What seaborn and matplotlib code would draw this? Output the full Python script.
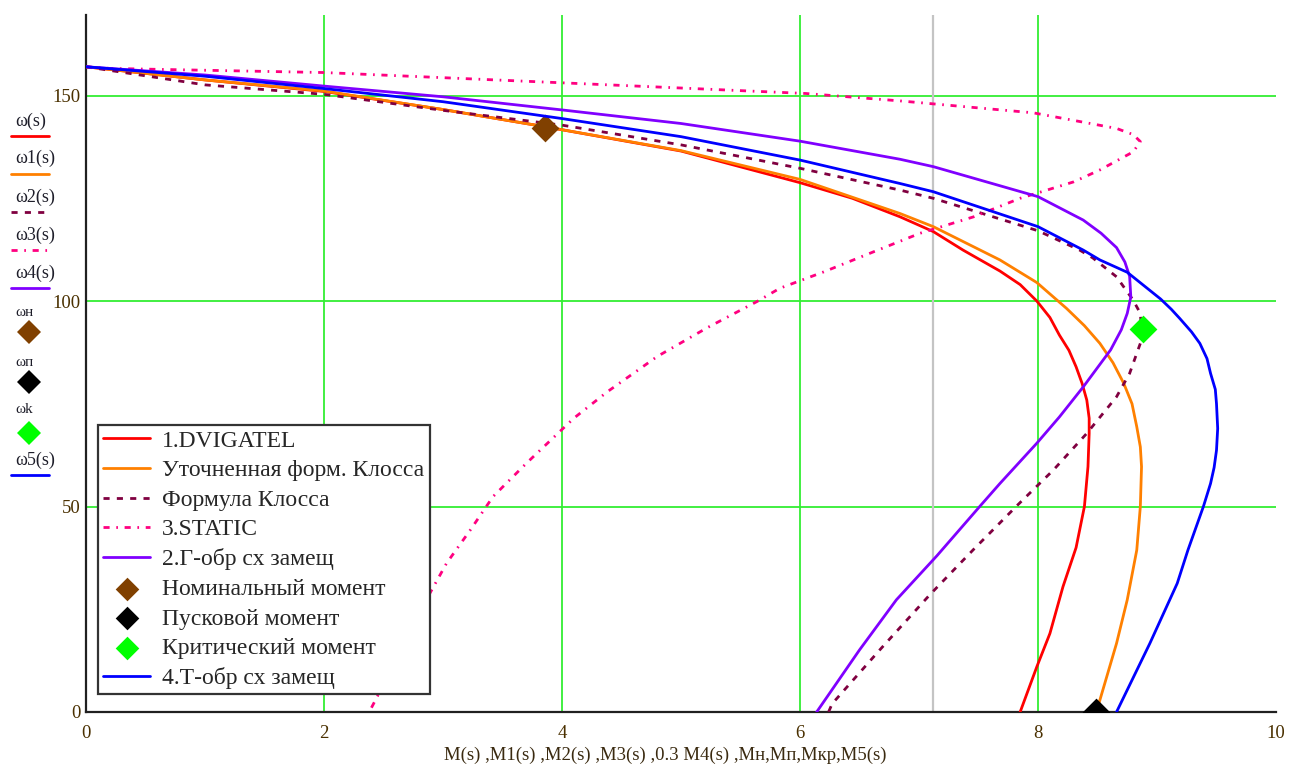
import numpy as np
import pandas as pd
import matplotlib
matplotlib.use("Agg")
import matplotlib.pyplot as plt
from matplotlib.lines import Line2D
import seaborn as sns

# ---------------- data ----------------
# 1.DVIGATEL  : omega(s) vs M(s)
M_red = [0, 1, 2, 3, 3.86, 5, 6, 6.44, 6.84, 7.12, 7.37, 7.68, 7.85, 7.99, 8.10, 8.18, 8.26, 8.32, 8.37, 8.41, 8.43, 8.43, 8.42, 8.39, 8.32, 8.21, 8.10, 7.99, 7.85]
W_red = [157, 153.8, 151.0, 146.6, 142.4, 136.5, 128.8, 125.0, 120.5, 116.9, 112.4, 107.3, 104.0, 100.0, 96.0, 91.7, 88.0, 84.0, 80.0, 75.9, 71.5, 67.8, 59.7, 50.0, 40.0, 30.5, 19.1, 11.0, 0]

# Уточненная форм. Клосса : omega1(s) vs M1(s)
M_orange = [0, 1, 2, 3, 3.86, 5, 6, 6.84, 7.12, 7.68, 7.99, 8.24, 8.39, 8.52, 8.63, 8.72, 8.79, 8.83, 8.86, 8.87, 8.86, 8.83, 8.75, 8.66, 8.52, 8.49]
W_orange = [157, 153.8, 151.1, 146.6, 142.4, 136.6, 129.6, 121.3, 118.1, 110.0, 104.5, 98.2, 94.0, 89.7, 85.0, 80.0, 75.0, 69.4, 64.5, 59.7, 50.0, 39.4, 27.3, 16.7, 2.9, 0]

# Формула Клосса : omega2(s) vs M2(s)
M_kloss = [0, 1, 2, 3, 4, 5, 6, 6.84, 7.12, 8.0, 8.35, 8.46, 8.66, 8.80, 8.86, 8.87, 8.86, 8.77, 8.66, 8.41, 8.13, 7.83, 7.46, 7.09, 6.67, 6.27, 6.24]
W_kloss = [157, 152.6, 150.3, 146.4, 142.8, 138.0, 132.3, 127.0, 125.0, 117.1, 112.4, 110.5, 105.9, 100.2, 97.0, 93.0, 89.7, 82.4, 76.7, 67.8, 58.9, 50.4, 39.6, 28.5, 15.1, 2.0, 0]

# 3.STATIC : omega3(s) vs M3(s)
M_static = [0, 0.2, 2, 4, 6.05, 6.84, 7.96, 8.66, 8.80, 8.86, 8.80, 8.52, 8.30, 7.85, 7.46, 7.01, 6.62, 6.20, 5.83, 5.64, 5.22, 4.80, 4.38, 4.10, 3.70, 3.42, 3.23, 3.03, 2.89, 2.74, 2.56, 2.38]
W_static = [157, 156.6, 155.6, 153.1, 150.5, 148.7, 145.8, 142.0, 140.5, 138.8, 136.3, 131.9, 129.0, 125.0, 120.5, 116.5, 112.0, 107.1, 103.1, 99.9, 93.5, 86.5, 77.9, 71.5, 60.5, 52.4, 44.3, 36.2, 28.9, 20.0, 10.0, 0]

# 2.Г-обр сх замещ : omega4(s) vs 0.3*M4(s)
M_gamma = [0, 1, 2, 3, 4, 5, 6, 6.84, 7.12, 8.0, 8.38, 8.53, 8.66, 8.73, 8.77, 8.78, 8.75, 8.70, 8.61, 8.38, 8.18, 7.99, 7.68, 7.51, 7.15, 6.81, 6.50, 6.14]
W_gamma = [157, 155.0, 152.3, 149.7, 146.5, 143.2, 138.9, 134.5, 132.7, 125.4, 119.7, 116.5, 113.0, 109.5, 106.0, 101.0, 97.0, 93.0, 88.1, 79.1, 71.8, 65.4, 55.6, 50.0, 38.0, 27.3, 15.1, 0]

# 4.Т-обр сх замещ : omega5(s) vs M5(s)
M_t = [0, 1, 2, 3, 4, 5, 6, 6.84, 7.12, 8.0, 8.38, 8.52, 8.75, 9.03, 9.12, 9.19, 9.29, 9.36, 9.42, 9.45, 9.49, 9.50, 9.51, 9.50, 9.48, 9.45, 9.39, 9.26, 9.17, 8.94, 8.66]
W_t = [157, 154.7, 151.7, 148.5, 144.4, 140.0, 134.3, 128.6, 126.6, 118.1, 112.4, 110.0, 107.0, 100.5, 98.0, 95.8, 92.5, 89.7, 86.0, 82.4, 78.5, 75.0, 69.0, 63.7, 59.5, 55.6, 50.0, 39.4, 31.3, 16.7, 0]

# points
M_nom, W_nom = [3.86], [142.2]     # Номинальный момент
M_start, W_start = [8.49], [0.0]   # Пусковой момент
M_crit, W_crit = [8.88], [93.1]    # Критический момент

X_MARKER = 7.12                    # grey vertical marker line
x_ticks = [0, 2, 4, 6, 8, 10]
y_ticks = [0, 50, 100, 150]
X_MAX, Y_MAX = 10, 169.6

legend_labels = ["1.DVIGATEL", "Уточненная форм. Клосса", "Формула Клосса", "3.STATIC",
                 "2.Г-обр сх замещ", "Номинальный момент", "Пусковой момент",
                 "Критический момент", "4.Т-обр сх замещ"]
side_labels = ["ω(s)", "ω1(s)", "ω2(s)", "ω3(s)", "ω4(s)", "ωн", "ωп", "ωk", "ω5(s)"]
x_label = "M(s) ,M1(s) ,M2(s) ,M3(s) ,0.3 M4(s) ,Mн,Mп,Mкр,M5(s)"

# ---------------- styling ----------------
sns.set_theme(style="white")
plt.rcParams["font.family"] = ["Liberation Serif", "DejaVu Serif"]

C_RED, C_OR, C_MAR, C_PINK = "#ff0000", "#ff8000", "#800040", "#ff0080"
C_PUR, C_BLUE = "#8000ff", "#0000ff"
C_BROWN, C_BLACK, C_GREEN = "#804000", "#000000", "#00ff00"
GRID_C = "#33ee33"
LW = 2.0
DASH_MAR = (0, (2.2, 2.6))
DASH_PINK = (0, (2.2, 2.4, 0.6, 2.4))

fig = plt.figure(figsize=(12.9, 7.7), dpi=100)
ax = fig.add_axes([86 / 1290, 1 - 712 / 770, 1190 / 1290, 697 / 770])

def curve(M, W, color, ls, label, z):
    df = pd.DataFrame({"M": M, "W": W})
    sns.lineplot(data=df, x="M", y="W", sort=False, estimator=None, color=color,
                 linestyle=ls, linewidth=LW, label=label, ax=ax, zorder=z)

curve(M_red, W_red, C_RED, "-", legend_labels[0], 3)
curve(M_orange, W_orange, C_OR, "-", legend_labels[1], 3.1)
curve(M_kloss, W_kloss, C_MAR, DASH_MAR, legend_labels[2], 3.2)
curve(M_static, W_static, C_PINK, DASH_PINK, legend_labels[3], 3.3)
curve(M_gamma, W_gamma, C_PUR, "-", legend_labels[4], 3.4)

def point(M, W, color, label, z):
    sns.scatterplot(x=M, y=W, marker="D", s=200, color=color, edgecolor=color,
                    linewidth=0, label=label, ax=ax, zorder=z)

point(M_nom, W_nom, C_BROWN, legend_labels[5], 3.5)
point(M_start, W_start, C_BLACK, legend_labels[6], 3.6)
point(M_crit, W_crit, C_GREEN, legend_labels[7], 3.7)
curve(M_t, W_t, C_BLUE, "-", legend_labels[8], 3.8)

ax.axvline(X_MARKER, color="#c4c4c4", lw=1.6, zorder=1.5)

ax.set_xlim(0, X_MAX)
ax.set_ylim(0, Y_MAX)
ax.set_xticks(x_ticks)
ax.set_yticks(y_ticks)
for v in x_ticks[1:-1]:
    ax.axvline(v, color=GRID_C, lw=1.3, zorder=1)
for v in y_ticks[1:]:
    ax.axhline(v, color=GRID_C, lw=1.3, zorder=1)
ax.grid(False)
ax.tick_params(axis="both", length=0, labelsize=13.5, labelcolor="#4a3000")
ax.tick_params(axis="x", pad=9)
ax.tick_params(axis="y", pad=4)
ax.set_xlabel(x_label, fontsize=13.5, color="#3a2a10")
ax.xaxis.set_label_coords((665 - 86) / 1190, (712 - 747) / 697)
ax.set_ylabel("")
for s in ["top", "right"]:
    ax.spines[s].set_visible(False)
for s in ["left", "bottom"]:
    ax.spines[s].set_color("#202020")
    ax.spines[s].set_linewidth(1.6)

leg = ax.legend(loc="upper left", bbox_to_anchor=(12 / 1190, (712 - 425) / 697),
                borderaxespad=0, frameon=True, fancybox=False, framealpha=1,
                edgecolor="#333333", fontsize=17, handlelength=2.0, handletextpad=0.5,
                labelspacing=0.34, borderpad=0.22, markerscale=0.85)
leg.get_frame().set_linewidth(1.6)
leg.set_zorder(10)

# left-margin trace labels (Mathcad-style y-axis labels)
side_text_y = [121, 158, 197, 235, 273, 312, 362, 410, 460]
side_sample_y = [136, 174, 212, 250, 288, 332, 382, 433, 475]
side_styles = [(C_RED, "-", None), (C_OR, "-", None), (C_MAR, DASH_MAR, None),
               (C_PINK, DASH_PINK, None), (C_PUR, "-", None), (C_BROWN, None, "D"),
               (C_BLACK, None, "D"), (C_GREEN, None, "D"), (C_BLUE, "-", None)]
for lab, ty, sy, (c, ls, mk) in zip(side_labels, side_text_y, side_sample_y, side_styles):
    small = mk is not None
    fig.text(15 / 1290, 1 - ty / 770, lab, fontsize=11 if small else 13, color="#1e1e2a",
             ha="left", va="center")
    yy = 1 - sy / 770
    if mk is None:
        fig.add_artist(Line2D([11 / 1290, 49 / 1290], [yy, yy], color=c, linestyle=ls,
                              linewidth=LW, transform=fig.transFigure))
    else:
        fig.add_artist(Line2D([29 / 1290], [yy], marker="D", markersize=12.5, color=c,
                              markeredgewidth=0, linestyle="none", transform=fig.transFigure))

fig.savefig("out.png", dpi=100, facecolor="white")
